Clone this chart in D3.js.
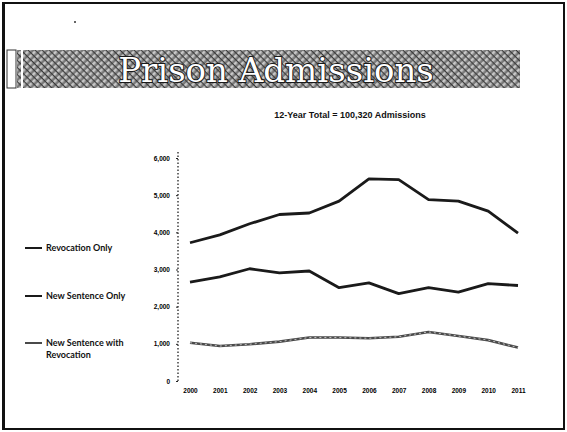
<!DOCTYPE html>
<html>
<head>
<meta charset="utf-8">
<script src="https://cdn.jsdelivr.net/npm/d3@7"></script>
<style>
  body { margin: 0; background: #fff; }
  svg { display: block; }
</style>
</head>
<body>
<div id="parentDiv"></div>
<script>
// data (admissions per year)
const years = [2000, 2001, 2002, 2003, 2004, 2005, 2006, 2007, 2008, 2009, 2010, 2011];
const revocationOnly = [3720, 3930, 4230, 4480, 4520, 4840, 5440, 5420, 4880, 4840, 4570, 3980];
const newSentenceOnly = [2660, 2800, 3020, 2910, 2960, 2510, 2640, 2350, 2510, 2390, 2620, 2570];
const newSentenceRevocation = [1030, 940, 990, 1060, 1170, 1170, 1150, 1190, 1320, 1210, 1100, 900];
const yTicks = [0, 1000, 2000, 3000, 4000, 5000, 6000];
const seriesNames = ["Revocation Only", "New Sentence Only", "New Sentence with Revocation"];

const width = 567;
const height = 432;

const svg = d3.select('#parentDiv').append('svg')
  .attr('width', width)
  .attr('height', height);

// dithered hatch pattern for the title banner
const defs = svg.append('defs');
const pat = defs.append('pattern')
  .attr('id', 'hatch')
  .attr('width', 5)
  .attr('height', 5)
  .attr('patternUnits', 'userSpaceOnUse')
  .attr('patternTransform', 'rotate(45)');
pat.append('rect').attr('width', 5).attr('height', 5).attr('fill', '#7a7a7a');
pat.append('rect').attr('width', 2.5).attr('height', 5).attr('fill', '#c8c8c8');
pat.append('rect').attr('width', 5).attr('height', 1.2).attr('fill', '#3a3a3a');

// slide frame
svg.append('rect')
  .attr('x', 3).attr('y', 3)
  .attr('width', width - 6).attr('height', height - 6)
  .attr('fill', 'none')
  .attr('stroke', '#111')
  .attr('stroke-width', 2);
svg.append('rect')
  .attr('x', 2).attr('y', 3)
  .attr('width', 3).attr('height', height - 6)
  .attr('fill', '#111');
svg.append('circle').attr('cx', 75).attr('cy', 22).attr('r', 1).attr('fill', '#333');

// TITLE BANNER
svg.append('rect')
  .attr('x', 7).attr('y', 50).attr('width', 9).attr('height', 38)
  .attr('fill', '#fff').attr('stroke', '#333').attr('stroke-width', 1);
svg.append('rect')
  .attr('x', 17).attr('y', 50).attr('width', 4).attr('height', 38)
  .attr('fill', 'url(#hatch)');
svg.append('rect')
  .attr('x', 23).attr('y', 50).attr('width', 497).attr('height', 38)
  .attr('fill', 'url(#hatch)');
svg.append('text')
  .attr('x', 276).attr('y', 82)
  .attr('text-anchor', 'middle')
  .attr('font-family', 'DejaVu Serif, Liberation Serif, serif')
  .attr('font-size', '34px')
  .attr('fill', '#fff')
  .attr('stroke', '#1a1a1a')
  .attr('stroke-width', 2)
  .attr('paint-order', 'stroke')
  .text('Prison Admissions');

// CHART
const margin = {left: 178, right: 49, top: 158, bottom: 51};
const x = d3.scalePoint()
  .domain(years)
  .range([margin.left + 12, width - margin.right]);
const y = d3.scaleLinear()
  .domain([0, 6000])
  .range([height - margin.bottom, margin.top]);

svg.append('text')
  .attr('x', 350).attr('y', 118)
  .attr('text-anchor', 'middle')
  .attr('font-family', 'Liberation Sans, Arial, sans-serif')
  .attr('font-weight', 'bold')
  .attr('font-size', '9px')
  .attr('fill', '#111')
  .text('12-Year Total = 100,320 Admissions');

// y axis, dotted line
const yAxis = svg.append('g')
  .attr('transform', `translate(${margin.left},0)`)
  .call(d3.axisLeft(y).tickValues(yTicks).tickFormat(d3.format(',')).tickSize(2));
yAxis.select('.domain')
  .attr('stroke', '#222')
  .attr('stroke-dasharray', '1.5,2')
  .attr('stroke-width', 1.3)
  .attr('d', `M0,${y(6000) - 6}V${y(0)}`);
yAxis.selectAll('.tick line').attr('stroke', '#222');
yAxis.selectAll('.tick text')
  .attr('x', -8)
  .attr('font-family', 'Liberation Sans, Arial, sans-serif')
  .attr('font-weight', 'bold')
  .attr('font-size', '6.5px')
  .attr('fill', '#000');

// x axis labels only
const xAxis = svg.append('g')
  .attr('transform', `translate(0,${y(0) + 4})`)
  .call(d3.axisBottom(x).tickSize(0));
xAxis.select('.domain').remove();
xAxis.selectAll('.tick text')
  .attr('font-family', 'Liberation Sans, Arial, sans-serif')
  .attr('font-weight', 'bold')
  .attr('font-size', '6.5px')
  .attr('fill', '#000');

const line = d3.line()
  .x((d, i) => x(years[i]))
  .y(d => y(d));

const series = [
  {values: revocationOnly, color: '#1a1a1a', width: 2.8},
  {values: newSentenceOnly, color: '#1a1a1a', width: 2.8},
  {values: newSentenceRevocation, color: '#4a4a4a', width: 2.6}
];

series.forEach(s => {
  svg.append('path')
    .datum(s.values)
    .attr('d', line)
    .attr('fill', 'none')
    .attr('stroke', s.color)
    .attr('stroke-width', s.width)
    .attr('stroke-linejoin', 'round');
});
// speckled highlight along the lowest series
svg.append('path')
  .datum(newSentenceRevocation)
  .attr('d', line)
  .attr('fill', 'none')
  .attr('stroke', '#ddd')
  .attr('stroke-width', 0.8)
  .attr('stroke-dasharray', '2,3');

// LEGEND
const legendY = [248, 296, 343];
seriesNames.forEach((name, i) => {
  svg.append('line')
    .attr('x1', 25).attr('x2', 42)
    .attr('y1', legendY[i]).attr('y2', legendY[i])
    .attr('stroke', series[i].color)
    .attr('stroke-width', 2);
  const t = svg.append('text')
    .attr('x', 46).attr('y', legendY[i] + 3)
    .attr('font-family', 'Lato, Open Sans, sans-serif')
    .attr('font-weight', 'bold')
    .attr('font-size', '9px')
    .attr('fill', '#111');
  if (i === 2) {
    t.append('tspan').text('New Sentence with');
    t.append('tspan').attr('x', 46).attr('dy', 12).text('Revocation');
  } else {
    t.text(name);
  }
});
</script>
</body>
</html>
